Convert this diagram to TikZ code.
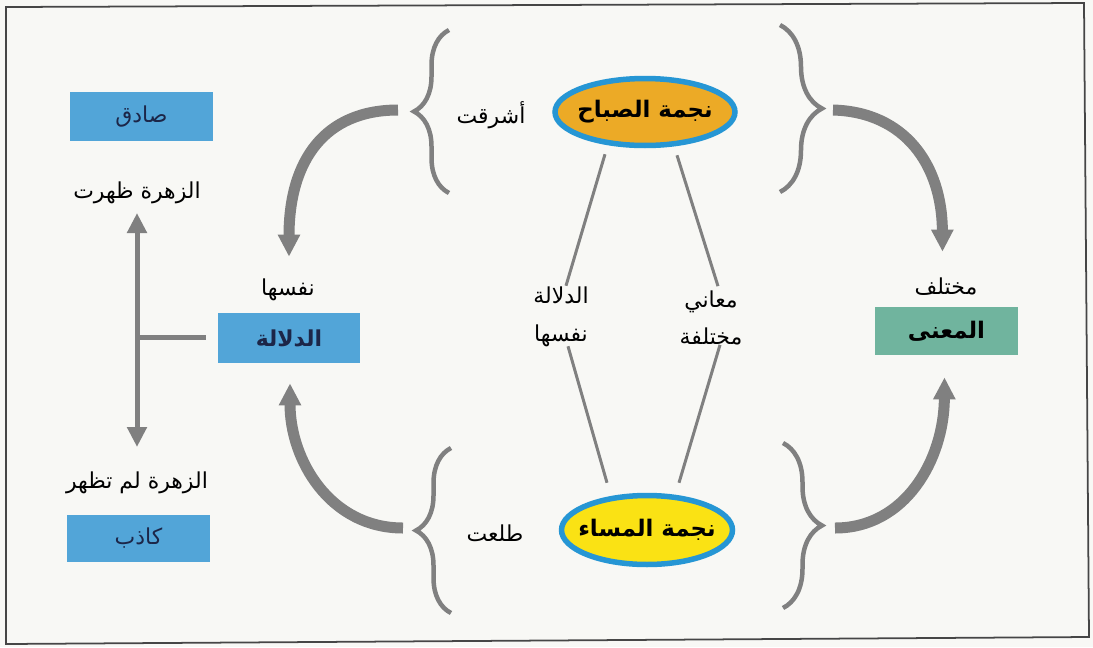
\documentclass[tikz,border=0pt]{standalone}
\usepackage{fontspec}
\newfontfamily\arabicfont[Script=Arabic]{DejaVu Sans}
\TeXXeTstate=1
\usetikzlibrary{arrows.meta,decorations.pathreplacing,shapes.geometric,calc}
\definecolor{bgc}{RGB}{248,248,245}
\definecolor{boxblue}{RGB}{82,165,216}
\definecolor{boxteal}{RGB}{112,180,158}
\definecolor{ringblue}{RGB}{38,150,212}
\definecolor{morning}{RGB}{236,170,38}
\definecolor{evening}{RGB}{250,226,20}
\definecolor{navy}{RGB}{28,38,72}
\definecolor{arrowgray}{RGB}{128,128,128}
\definecolor{framec}{RGB}{70,70,70}
\tikzset{
  lbl/.style={font=\arabicfont\fontsize{12.5}{21.5}\selectfont, text=black, inner sep=0pt, align=center},
  tagbox/.style={rectangle, inner sep=0pt, minimum width=2.86cm, text=navy,
                 font=\arabicfont\fontsize{12.5}{14}\selectfont},
  star/.style={ellipse, draw=ringblue, line width=0.11cm, inner sep=0pt, text=black,
               font=\arabicfont\bfseries\fontsize{13}{16}\selectfont},
  bigarrow/.style={draw=arrowgray, line width=0.22cm, -{Triangle[width=0.42cm,length=0.44cm]}},
  thinline/.style={draw=arrowgray, line width=0.06cm},
  bracec/.style={draw=arrowgray, line width=0.09cm, decorate, decoration={brace, amplitude=#1}},
  tline/.style={draw=arrowgray, line width=0.1cm},
}
\begin{document}
\begin{tikzpicture}[x=0.02cm,y=-0.02cm]
\useasboundingbox (0,0) rectangle (1093,647);
\fill[bgc] (0,0) rectangle (1093,647);
\draw[framec, line width=1pt] (6,7) -- (1084,3) -- (1089,637) -- (6,644) -- cycle;

% boxes
\node[tagbox, fill=boxblue, minimum height=0.98cm] (sadiq) at (141.5,116.5) {\beginR صادق\endR};
\node[tagbox, fill=boxblue, minimum height=0.94cm] (kadhib) at (138.5,538.5) {\beginR كاذب\endR};
\node[tagbox, fill=boxblue, minimum width=2.84cm, minimum height=1.0cm, font=\arabicfont\bfseries\fontsize{12.5}{14}\selectfont] (dalala) at (289,338) {\beginR الدلالة\endR};
\node[tagbox, fill=boxteal, minimum height=0.96cm, text=black, font=\arabicfont\bfseries\fontsize{13}{14}\selectfont] (maana) at (946.5,331) {\beginR المعنى\endR};

% ellipses
\node[star, fill=morning, minimum width=3.6cm, minimum height=1.34cm] (subh) at (645,112) {\makebox[0pt][c]{\beginR نجمة الصباح\endR}};
\node[star, fill=evening, minimum width=3.42cm, minimum height=1.38cm] (masa) at (647,530) {\makebox[0pt][c]{\beginR نجمة المساء\endR}};

% labels
\node[lbl] (zuhra1) at (137,193) {\beginR الزهرة ظهرت\endR};
\node[lbl] (zuhra2) at (137,483) {\beginR الزهرة لم تظهر\endR};
\node[lbl] (nafsuha) at (288,290) {\beginR نفسها\endR};
\node[lbl] (ashraqat) at (491,115) {\beginR أشرقت\endR};
\node[lbl] (talaat) at (495,533) {\beginR طلعت\endR};
\node[lbl] (mukhtalif) at (946,287) {\beginR مختلف\endR};
\node[lbl] (same) at (561,317) {\beginR الدلالة\endR\\\beginR نفسها\endR};
\node[lbl] (diff) at (711,318) {\beginR معاني\endR\\\beginR مختلفة\endR};

% thin connectors
\draw[thinline] ($(subh.south)+(-40,6)$) -- ($(same.north)+(5,-1)$);
\draw[thinline] ($(subh.south)+(32,7)$) -- ($(diff.north)+(7,-4)$);
\draw[thinline] ($(same.south)+(7,-1)$) -- ($(masa.north)+(-40,-10)$);
\draw[thinline] ($(diff.south)+(9,-1)$) -- ($(masa.north)+(32,-10)$);

% braces
\coordinate (b1a) at (449,193); \coordinate (b1b) at (449,30);
\coordinate (b2a) at (780,25);  \coordinate (b2b) at (780,192);
\coordinate (b3a) at (783,443); \coordinate (b3b) at (783,608);
\coordinate (b4a) at (451,613); \coordinate (b4b) at (451,448);
\draw[bracec=0.7cm] (b1a) -- (b1b);
\draw[bracec=0.84cm] (b2a) -- (b2b);
\draw[bracec=0.78cm] (b3a) -- (b3b);
\draw[bracec=0.7cm] (b4a) -- (b4b);

% curved arrows
\coordinate (atl) at (398,110);
\coordinate (atr) at (833,110);
\coordinate (abr) at (835,528);
\coordinate (abl) at (403,528);
\draw[bigarrow] (atl) .. controls (325,110) and (289,160) .. ($(dalala.north)+(0,-56)$);
\draw[bigarrow] (atr) .. controls (905,112) and (942,165) .. ($(maana.north)+(-4,-55)$);
\draw[bigarrow] (abr) .. controls (905,528) and (944,460) .. ($(maana.south)+(-2,22)$);
\draw[bigarrow] (abl) .. controls (330,528) and (290,460) .. ($(dalala.south)+(1,20)$);

% T connector
\coordinate (tj) at (137,337);
\draw[tline, {Triangle[width=0.38cm,length=0.4cm]}-{Triangle[width=0.38cm,length=0.4cm]}]
  ($(zuhra1.center)+(0,20)$) -- ($(zuhra2.center)+(0,-36)$);
\draw[tline] ($(dalala.west)+(-12,-1)$) -- (tj);
\end{tikzpicture}
\end{document}
